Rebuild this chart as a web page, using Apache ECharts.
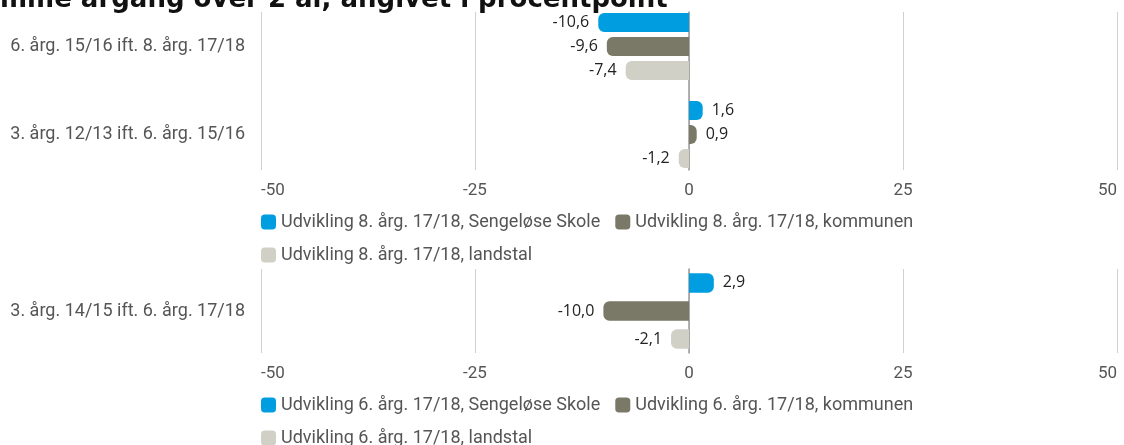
<!DOCTYPE html>
<html>
<head>
<meta charset="utf-8">
<script src="https://cdn.jsdelivr.net/npm/echarts@6/dist/echarts.min.js"></script>
<style>
html,body{margin:0;padding:0;background:#fff;}
#chart{width:1124px;height:445px;}
</style>
</head>
<body>
<div id="chart"></div>
<script>
const titleText = 'mme årgang over 2 år, angivet i procentpoint';

const categoriesTop = ['6. årg. 15/16 ift. 8. årg. 17/18', '3. årg. 12/13 ift. 6. årg. 15/16'];
const seriesNamesTop = ['Udvikling 8. årg. 17/18, Sengeløse Skole', 'Udvikling 8. årg. 17/18, kommunen', 'Udvikling 8. årg. 17/18, landstal'];
const skoleTop = [-10.6, 1.6];
const kommuneTop = [-9.6, 0.9];
const landTop = [-7.4, -1.2];

const categoriesBottom = ['3. årg. 14/15 ift. 6. årg. 17/18'];
const seriesNamesBottom = ['Udvikling 6. årg. 17/18, Sengeløse Skole', 'Udvikling 6. årg. 17/18, kommunen', 'Udvikling 6. årg. 17/18, landstal'];
const skoleBottom = [2.9];
const kommuneBottom = [-10.0];
const landBottom = [-2.1];

const axisMin = -50, axisMax = 50, axisInterval = 25;

const colors = ['#009ee0', '#7a7866', '#d1d0c7'];
const labelFont = 'Roboto';
const txtColor = '#555';

function fmt(v){ return v.toFixed(1).replace('.', ','); }
function toData(arr){
  return arr.map(v => ({
    value: v,
    itemStyle: { borderRadius: v < 0 ? [6,0,0,6] : [0,6,6,0] },
    label: { position: v < 0 ? 'left' : 'right' }
  }));
}

function frameX(gi){
  return {
    type:'value', gridIndex:gi, min:axisMin, max:axisMax, interval:axisInterval,
    axisLine:{show:false}, axisTick:{show:false},
    splitLine:{show:true, lineStyle:{color:'#d0d0d0', width:1}},
    axisLabel:{show:true, color:txtColor, fontFamily:labelFont, fontSize:17, margin:12,
      alignMinLabel:'left', alignMaxLabel:'right'}
  };
}
function hiddenX(gi){
  return {
    type:'value', gridIndex:gi, min:axisMin, max:axisMax, interval:axisInterval,
    axisLine:{show:false}, axisTick:{show:false}, splitLine:{show:false}, axisLabel:{show:false}
  };
}
function frameY(gi){
  return {
    type:'category', gridIndex:gi, data:[''],
    axisLine:{show:true, onZero:true, lineStyle:{color:'#9a9a9a', width:1.5}},
    axisTick:{show:false}, axisLabel:{show:false}, splitLine:{show:false}
  };
}
function barsY(gi, cats){
  return {
    type:'category', gridIndex:gi, data:cats, inverse:true,
    axisLine:{show:false, onZero:false}, axisTick:{show:false}, splitLine:{show:false},
    axisLabel:{show:true, color:txtColor, fontFamily:labelFont, fontSize:18, margin:16}
  };
}
function barSeries(name, arr, xi, yi, color, gap, width){
  return {
    type:'bar', name:name, xAxisIndex:xi, yAxisIndex:yi, data:toData(arr),
    barWidth:width, barGap:gap, itemStyle:{color:color},
    label:{show:true, distance:9, color:'#222', fontFamily:'Open Sans', fontSize:16,
      formatter: p => fmt(p.value)}
  };
}

const legendText = {color:txtColor, fontFamily:labelFont, fontSize:18};

const chart = echarts.init(document.getElementById('chart'), null, {renderer:'canvas'});
chart.setOption({
  animation:false,
  color: colors,
  graphic:[{
    type:'text', left:0, top:-13,
    style:{text:titleText, font:'bold 26px "DejaVu Sans"', fill:'#111'}
  }],
  legend:[
    {
      data: seriesNamesTop, left:256, top:208, width:860, orient:'horizontal',
      icon:'roundRect', itemWidth:15, itemHeight:15, itemGap:15,
      textStyle:legendText
    },
    {
      data: seriesNamesBottom, left:256, top:391, width:860, orient:'horizontal',
      icon:'roundRect', itemWidth:15, itemHeight:15, itemGap:15,
      textStyle:legendText
    }
  ],
  grid:[
    {left:261, right:7, top:12, height:158},
    {left:261, right:7, top:2.5, height:176},
    {left:261, right:7, top:269, height:84},
    {left:261, right:7, top:269, height:84}
  ],
  xAxis:[frameX(0), hiddenX(1), frameX(2), hiddenX(3)],
  yAxis:[frameY(0), barsY(1, categoriesTop), frameY(2), barsY(3, categoriesBottom)],
  series:[
    barSeries(seriesNamesTop[0], skoleTop, 1, 1, colors[0], '26%', 19),
    barSeries(seriesNamesTop[1], kommuneTop, 1, 1, colors[1], '26%', 19),
    barSeries(seriesNamesTop[2], landTop, 1, 1, colors[2], '26%', 19),
    barSeries(seriesNamesBottom[0], skoleBottom, 3, 3, colors[0], '44%', 19.5),
    barSeries(seriesNamesBottom[1], kommuneBottom, 3, 3, colors[1], '44%', 19.5),
    barSeries(seriesNamesBottom[2], landBottom, 3, 3, colors[2], '44%', 19.5)
  ]
});
</script>
</body>
</html>
